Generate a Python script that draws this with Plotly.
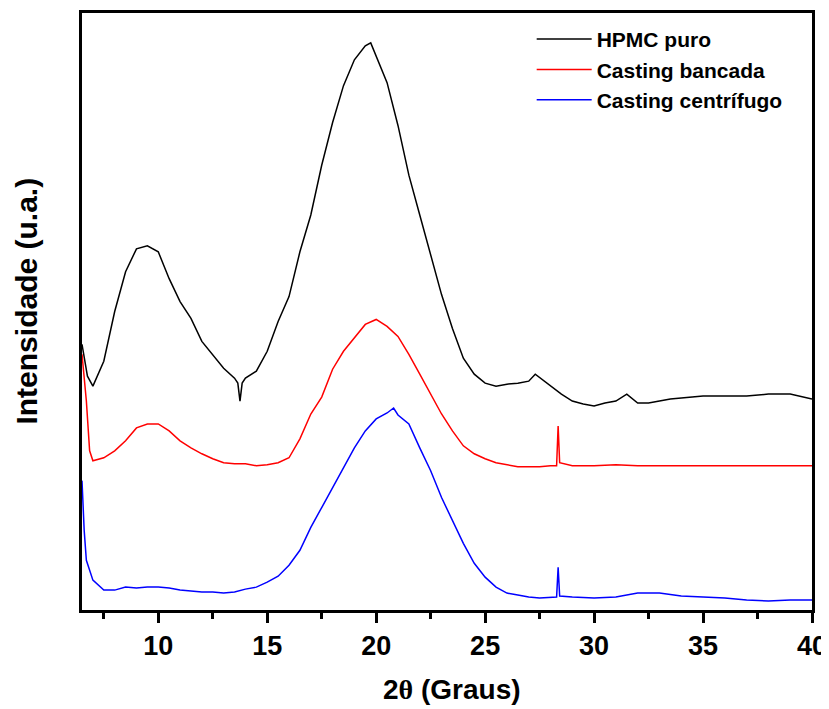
import plotly.graph_objects as go

# ---- data (intensity in arbitrary units) ----
hpmc_x = [6.5, 6.75, 7.0, 7.5, 8.0, 8.5, 9.0, 9.5, 10.0, 10.5, 11.0, 11.5, 12.0, 12.5,
          13.0, 13.5, 13.65, 13.75, 13.85, 14.0, 14.5, 15.0, 15.5, 16.0, 16.5, 17.0, 17.5,
          18.0, 18.5, 19.0, 19.5, 19.75, 20.0, 20.5, 21.0, 21.5, 22.0, 22.5, 23.0, 23.5,
          24.0, 24.5, 25.0, 25.5, 26.0, 26.5, 27.0, 27.3, 27.6, 28.0, 28.5, 29.0, 29.5,
          30.0, 30.5, 31.0, 31.5, 32.0, 32.5, 33.0, 33.5, 34.0, 35.0, 36.0, 37.0, 38.0,
          39.0, 40.0]
hpmc_y = [267, 235, 225, 250, 300, 340, 363, 366, 360, 333, 310, 293, 270, 257,
          243, 233, 228, 210, 228, 233, 240, 260, 290, 315, 360, 397, 447,
          490, 527, 553, 567, 570, 557, 530, 487, 437, 397, 357, 317, 283,
          253, 237, 228, 225, 227, 228, 230, 237, 232, 225, 217, 210, 207,
          205, 208, 210, 217, 208, 208, 210, 212, 213, 215, 215, 215, 217,
          217, 212]

bancada_x = [6.5, 6.6, 6.7, 6.85, 7.0, 7.5, 8.0, 8.5, 9.0, 9.5, 10.0, 10.5, 11.0, 11.5, 12.0,
             12.5, 13.0, 13.5, 14.0, 14.5, 15.0, 15.5, 16.0, 16.5, 17.0, 17.5, 18.0, 18.5,
             19.0, 19.5, 20.0, 20.5, 21.0, 21.5, 22.0, 22.5, 23.0, 23.5, 24.0, 24.5, 25.0,
             25.5, 26.0, 26.5, 27.0, 27.5, 28.0, 28.28, 28.35, 28.42, 29.0, 30.0, 31.0, 32.0,
             33.0, 34.0, 35.0, 36.0, 37.0, 38.0, 39.0, 40.0]
bancada_y = [257, 230, 210, 160, 150, 153, 160, 170, 183, 187, 187, 180, 170, 163, 157,
             152, 148, 147, 147, 145, 146, 148, 153, 172, 197, 214, 242, 260,
             273, 287, 292, 285, 275, 257, 237, 217, 197, 180, 165, 157, 152,
             148, 146, 144, 144, 144, 145, 145, 185, 148, 145, 145, 146, 145,
             145, 145, 145, 145, 145, 145, 145, 145]

centrifugo_x = [6.5, 6.6, 6.7, 6.85, 7.0, 7.5, 8.0, 8.5, 9.0, 9.5, 10.0, 10.5, 11.0, 11.5, 12.0,
                12.5, 13.0, 13.5, 14.0, 14.5, 15.0, 15.5, 16.0, 16.5, 17.0, 17.5, 18.0, 18.5,
                19.0, 19.5, 20.0, 20.5, 20.8, 21.0, 21.5, 22.0, 22.5, 23.0, 23.5, 24.0, 24.5,
                25.0, 25.5, 26.0, 26.5, 27.0, 27.5, 28.0, 28.28, 28.35, 28.42, 29.0, 30.0, 31.0,
                32.0, 33.0, 34.0, 35.0, 36.0, 37.0, 38.0, 39.0, 40.0]
centrifugo_y = [130, 80, 50, 40, 30, 20, 20, 23, 22, 23, 23, 22, 20, 19, 18,
                18, 17, 18, 21, 23, 28, 34, 45, 60, 83, 103, 123, 143,
                163, 180, 192, 198, 203, 196, 187, 163, 140, 113, 90, 67, 47,
                33, 23, 17, 15, 13, 12, 13, 13, 43, 14, 13, 12, 13,
                17, 17, 14, 13, 12, 10, 9, 10, 10]

series_names = ["HPMC puro", "Casting bancada", "Casting centrífugo"]
series_colors = ["#000000", "#FF0000", "#0000FF"]
x_ticks = [10, 15, 20, 25, 30, 35, 40]

FONT = "Arial, Liberation Sans, sans-serif"

fig = go.Figure()
for name, color, xs, ys in zip(series_names, series_colors,
                               [hpmc_x, bancada_x, centrifugo_x],
                               [hpmc_y, bancada_y, centrifugo_y]):
    fig.add_trace(go.Scatter(x=xs, y=ys, mode="lines", name=name,
                             line=dict(color=color, width=1.5)))

# page body has an 8px default margin; figure is sized to fit the 829x709 window
fig.update_layout(
    width=821, height=701,
    margin=dict(l=74, r=17, t=2, b=99),
    paper_bgcolor="white", plot_bgcolor="white",
    font=dict(family=FONT, color="black"),
    showlegend=True,
    legend=dict(x=0.616, y=0.99, xanchor="left", yanchor="top",
                bgcolor="rgba(0,0,0,0)", borderwidth=0,
                font=dict(family=FONT, size=21, color="black", weight="bold"),
                tracegroupgap=0, itemwidth=55),
)

fig.update_xaxes(
    range=[6.5, 40], showgrid=False, zeroline=False,
    showline=True, linewidth=3, linecolor="black", mirror=True,
    tickmode="array", tickvals=x_ticks, ticktext=[str(v) for v in x_ticks],
    ticks="outside", ticklen=10, tickwidth=3, tickcolor="black",
    tickfont=dict(family=FONT, size=27, color="black", weight="bold"),
    minor=dict(tick0=0, dtick=2.5, ticks="outside", ticklen=6, tickwidth=3, tickcolor="black"),
)
fig.update_yaxes(
    range=[0, 600], showgrid=False, zeroline=False,
    showline=True, linewidth=3, linecolor="black", mirror=True,
    ticks="", showticklabels=False,
)

fig.add_annotation(
    text="2<span style=\"font-family:'Liberation Serif', serif\">θ</span> (Graus)",
    xref="paper", yref="paper", x=(452 - 82) / 730, y=(610 - 690) / 600,
    xanchor="center", yanchor="middle", showarrow=False,
    font=dict(family=FONT, size=28, color="black", weight="bold"),
)
fig.add_annotation(
    text="Intensidade (u.a.)",
    xref="paper", yref="paper", x=(27 - 82) / 730, y=(610 - 300) / 600,
    xanchor="center", yanchor="middle", showarrow=False, textangle=-90,
    font=dict(family=FONT, size=30, color="black", weight="bold"),
)

fig.write_html("out.html")
